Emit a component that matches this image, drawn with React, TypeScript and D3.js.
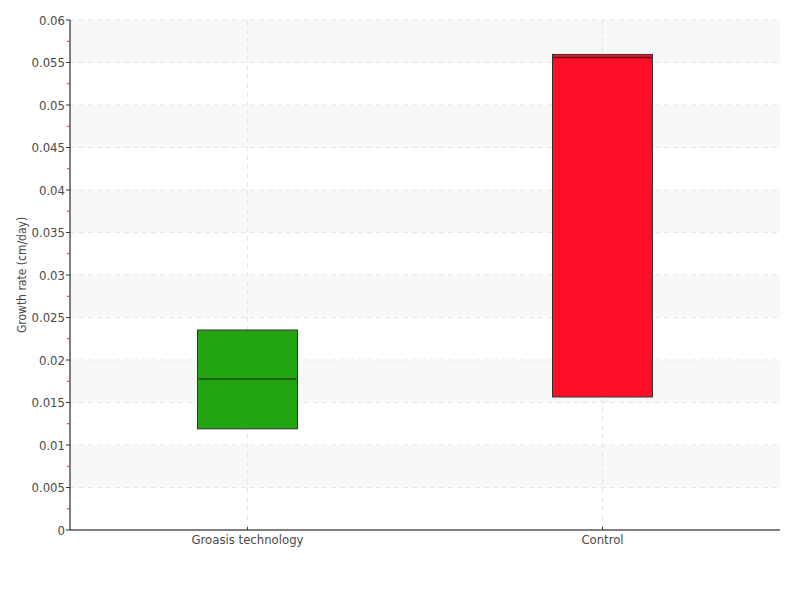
import React from "react";
import * as d3 from "d3";

// ── Data ──────────────────────────────────────────────────────────────────────
const categories = ["Groasis technology", "Control"];
const q1Values = [0.0119, 0.01565];
const medianValues = [0.01776, 0.0556];
const q3Values = [0.02353, 0.05595];
const boxColors = ["#22a511", "#ff0e28"];
const medianColors = ["#1d4d12", "#5a0810"];
const yTicks = [0, 0.005, 0.01, 0.015, 0.02, 0.025, 0.03, 0.035, 0.04, 0.045, 0.05, 0.055, 0.06];

// ── Layout ────────────────────────────────────────────────────────────────────
const W = 800;
const H = 600;
const M = { top: 20, right: 20, bottom: 70, left: 70 };
const FONT = "'DejaVu Sans Condensed', 'DejaVu Sans', sans-serif";

export default function App() {
  const x = d3.scaleBand<string>().domain(categories).range([M.left, W - M.right]);
  const y = d3.scaleLinear().domain([0, 0.06]).range([H - M.bottom, M.top]);
  const boxW = 100;

  const bands = yTicks.slice(0, -1).map((t, i) => ({ lo: t, hi: yTicks[i + 1], i }));
  const minor = yTicks.slice(0, -1).map((t, i) => (t + yTicks[i + 1]) / 2);

  const textStyle = { fontFamily: FONT, fontStretch: "condensed" as const };

  return (
    <svg width={W} height={H} style={{ position: "absolute", left: 0, top: 0, background: "#fff" }}>
      {/* alternating bands */}
      {bands.map((b) =>
        b.i % 2 === 1 ? (
          <rect
            key={b.i}
            x={M.left}
            y={y(b.hi)}
            width={W - M.right - M.left}
            height={y(b.lo) - y(b.hi)}
            fill="#f8f8f8"
          />
        ) : null
      )}

      {/* horizontal grid */}
      {yTicks.slice(1).map((t) => (
        <line
          key={t}
          x1={M.left}
          x2={W - M.right}
          y1={y(t)}
          y2={y(t)}
          stroke="#e6e6e6"
          strokeDasharray="5 4"
        />
      ))}

      {/* vertical grid */}
      {categories.map((c) => (
        <line
          key={c}
          x1={x(c)! + x.bandwidth() / 2}
          x2={x(c)! + x.bandwidth() / 2}
          y1={M.top}
          y2={H - M.bottom}
          stroke="#e6e6e6"
          strokeDasharray="5 4"
        />
      ))}

      {/* boxes */}
      {categories.map((c, i) => {
        const cx = x(c)! + x.bandwidth() / 2;
        return (
          <g key={c}>
            <rect
              x={cx - boxW / 2}
              y={y(q3Values[i])}
              width={boxW}
              height={y(q1Values[i]) - y(q3Values[i])}
              fill={boxColors[i]}
              stroke="#333"
              strokeWidth={1}
            />
            <line
              x1={cx - boxW / 2 + 1}
              x2={cx + boxW / 2 - 1}
              y1={y(medianValues[i])}
              y2={y(medianValues[i])}
              stroke={medianColors[i]}
              strokeWidth={1.5}
            />
          </g>
        );
      })}

      {/* y axis */}
      <line x1={M.left} x2={M.left} y1={M.top} y2={H - M.bottom} stroke="#000" />
      {minor.map((t) => (
        <line key={t} x1={M.left - 3} x2={M.left} y1={y(t)} y2={y(t)} stroke="#ff2020" />
      ))}
      {yTicks.map((t) => (
        <g key={t}>
          <line x1={M.left - 4} x2={M.left} y1={y(t)} y2={y(t)} stroke="#333" />
          <text
            x={M.left - 5}
            y={y(t)}
            textAnchor="end"
            dominantBaseline="central"
            style={textStyle}
            fontSize={13}
            fill="#4a4a4a"
          >
            {String(t)}
          </text>
        </g>
      ))}
      <text
        transform={`translate(22,${(M.top + H - M.bottom) / 2}) rotate(-90)`}
        textAnchor="middle"
        dominantBaseline="central"
        style={textStyle}
        fontSize={12}
        fill="#4a4a4a"
      >
        Growth rate (cm/day)
      </text>

      {/* x axis */}
      <line x1={M.left} x2={W - M.right} y1={H - M.bottom} y2={H - M.bottom} stroke="#000" />
      {categories.map((c) => {
        const cx = x(c)! + x.bandwidth() / 2;
        return (
          <g key={c}>
            <line x1={cx} x2={cx} y1={H - M.bottom - 3} y2={H - M.bottom} stroke="#333" />
            <text
              x={cx}
              y={H - M.bottom + 9}
              textAnchor="middle"
              dominantBaseline="central"
              style={textStyle}
              fontSize={13}
              fill="#4a4a4a"
            >
              {c}
            </text>
          </g>
        );
      })}
    </svg>
  );
}
